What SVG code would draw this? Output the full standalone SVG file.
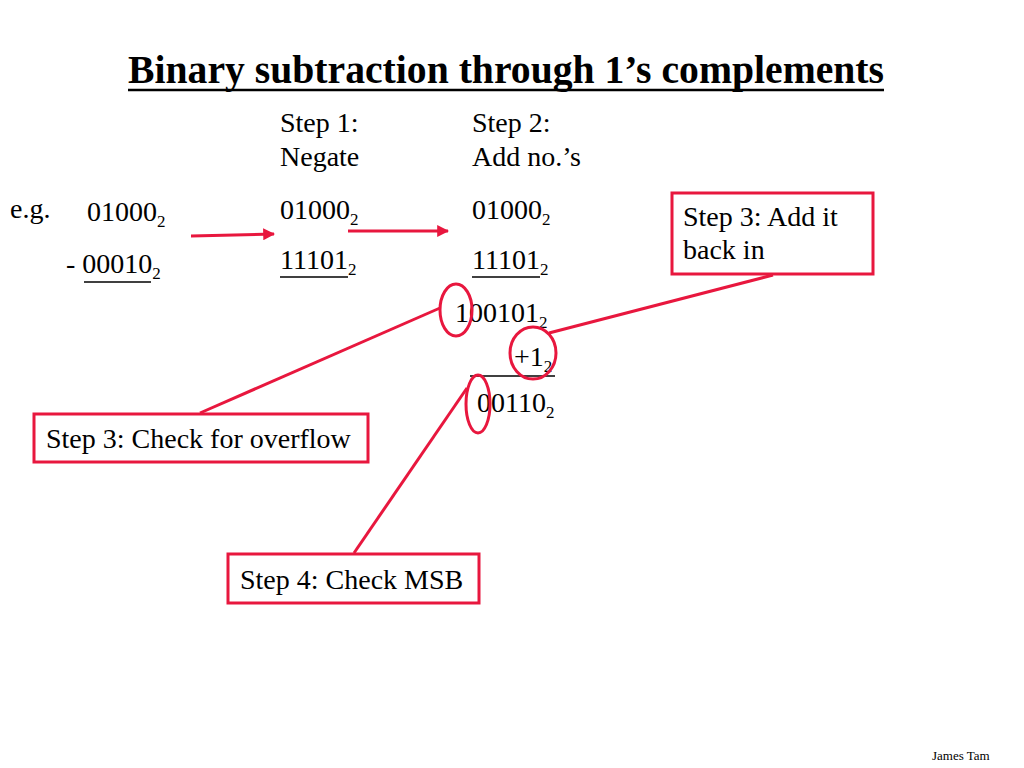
<svg xmlns="http://www.w3.org/2000/svg" width="1024" height="768" viewBox="0 0 1024 768">
<defs>
<style>
.t{font-family:"Liberation Serif","Times New Roman",serif;font-size:28px;fill:#000}
.s{font-size:17px}
.ttl{font-family:"Liberation Serif","Times New Roman",serif;font-size:39.5px;font-weight:bold;fill:#000}
.ul{stroke:#000;stroke-width:1.5}
.red{stroke:#E8173E;stroke-width:3;fill:none}
.box{stroke:#E8173E;stroke-width:3;fill:#fff}
</style>
<marker id="ah" viewBox="0 0 10 10" refX="9" refY="5" markerWidth="4" markerHeight="4" orient="auto" markerUnits="strokeWidth">
<path d="M0,0 L10,5 L0,10 z" fill="#E8173E"/>
</marker>
</defs>
<rect width="1024" height="768" fill="#fff"/>
<g id="title">
<text class="ttl" x="128" y="83" textLength="756" lengthAdjust="spacingAndGlyphs">Binary subtraction through 1’s complements</text>
<line x1="128" y1="90" x2="884" y2="90" stroke="#000" stroke-width="2.5"/>
</g>
<g id="col0">
<text class="t" x="10" y="218">e.g.</text>
<text class="t" x="87" y="221">01000<tspan class="s" dy="6">2</tspan></text>
<text class="t" x="66" y="273">- 00010<tspan class="s" dy="6">2</tspan></text>
<line class="ul" x1="84" y1="282" x2="151" y2="282"/>
</g>
<g id="col1">
<text class="t" x="280" y="132">Step 1:</text>
<text class="t" x="280" y="166">Negate</text>
<text class="t" x="280" y="219">01000<tspan class="s" dy="6">2</tspan></text>
<text class="t" x="280" y="269">11101<tspan class="s" dy="6">2</tspan></text>
<line class="ul" x1="280" y1="277" x2="348" y2="277"/>
</g>
<g id="col2">
<text class="t" x="472" y="132">Step 2:</text>
<text class="t" x="472" y="166">Add no.’s</text>
<text class="t" x="472" y="219">01000<tspan class="s" dy="6">2</tspan></text>
<text class="t" x="472" y="269">11101<tspan class="s" dy="6">2</tspan></text>
<line class="ul" x1="472" y1="277" x2="540" y2="277"/>
<text class="t" x="455" y="322">100101<tspan class="s" dy="6">2</tspan></text>
<text class="t" x="514" y="366">+1<tspan class="s" dy="6">2</tspan></text>
<line class="ul" x1="470" y1="376" x2="555" y2="376"/>
<text class="t" x="477" y="412">00110<tspan class="s" dy="6">2</tspan></text>
</g>
<g id="connectors">
<line class="red" x1="191" y1="236" x2="274" y2="234" marker-end="url(#ah)"/>
<line class="red" x1="348" y1="231" x2="448" y2="231" marker-end="url(#ah)"/>
<ellipse class="red" cx="456" cy="310" rx="16" ry="26"/>
<ellipse class="red" cx="533" cy="353" rx="23" ry="26"/>
<ellipse class="red" cx="478" cy="404" rx="12" ry="29"/>
<line class="red" x1="200" y1="413" x2="440" y2="308"/>
<line class="red" x1="773" y1="275" x2="549" y2="333"/>
<line class="red" x1="354" y1="553" x2="467" y2="388"/>
</g>
<g id="box-add">
<rect class="box" x="672" y="193" width="201" height="81"/>
<text class="t" x="683" y="226">Step 3: Add it</text>
<text class="t" x="683" y="259">back in</text>
</g>
<g id="box-overflow">
<rect class="box" x="34" y="414" width="334" height="48"/>
<text class="t" x="46" y="448">Step 3: Check for overflow</text>
</g>
<g id="box-msb">
<rect class="box" x="228" y="554" width="251" height="49"/>
<text class="t" x="240" y="589">Step 4: Check MSB</text>
</g>
<text x="932" y="760" font-family="Liberation Serif, serif" font-size="13">James Tam</text>
</svg>
